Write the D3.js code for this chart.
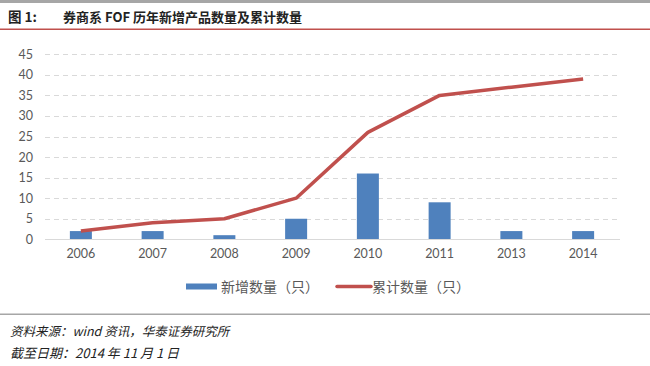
<!DOCTYPE html>
<html><head><meta charset="utf-8">
<script src="https://cdn.jsdelivr.net/npm/d3@7"></script>
<style>
html,body{margin:0;padding:0;background:#fff;}
svg{display:block;}
</style></head>
<body>
<script>
const categories = ["2006","2007","2008","2009","2010","2011","2013","2014"];
const newCount = [2,2,1,5,16,9,2,2];
const cumCount = [2,4,5,10,26,35,37,39];
const yTicks = [0,5,10,15,20,25,30,35,40,45];
const titleLabel = "图 1:";
const titleText = "券商系 FOF 历年新增产品数量及累计数量";
const legendLabels = ["新增数量（只）","累计数量（只）"];
const sourceText = "资料来源：wind 资讯，华泰证券研究所";
const dateText = "截至日期：2014 年 11 月 1 日";

const W = 650, H = 366;
const svg = d3.select("body").append("svg").attr("width", W).attr("height", H);
const cjk = "'Noto Sans CJK SC', 'Noto Sans', sans-serif";
const num = "Lato, 'Open Sans', sans-serif";

// top bar
svg.append("rect").attr("x",0).attr("y",0).attr("width",W).attr("height",3).attr("fill","#a6a6a6");
svg.append("text").attr("x",8).attr("y",22).attr("font-family",cjk).attr("font-weight",700)
  .attr("font-size",13.5).attr("fill","#222").text(titleLabel);
svg.append("text").attr("x",63).attr("y",22).attr("font-family",cjk).attr("font-weight",700)
  .attr("font-size",13).attr("fill","#222").text(titleText);
svg.append("rect").attr("x",0).attr("y",28.5).attr("width",W).attr("height",1.5).attr("fill","#c0504d");

const x = d3.scaleBand().domain(categories).range([45, 619]).paddingInner(0).paddingOuter(0);
const y = d3.scaleLinear().domain([0,45]).range([239.3, 54.3]);

const g = svg.append("g");
g.selectAll("line.grid").data(yTicks.filter(d=>d>0)).enter().append("line")
  .attr("x1",45).attr("x2",620).attr("y1",d=>Math.round(y(d))+0.5).attr("y2",d=>Math.round(y(d))+0.5)
  .attr("stroke","#d9d9d9").attr("stroke-width",1).attr("stroke-dasharray","5,4");

const yAxis = d3.axisLeft(y).tickValues(yTicks).tickSize(0).tickPadding(0);
const ya = svg.append("g").attr("transform","translate(33,0)").call(yAxis);
ya.select(".domain").remove();
ya.selectAll("text").attr("font-family",num).attr("font-size",12.5).attr("fill","#595959");

const bw = 22;
g.selectAll("rect.bar").data(categories).enter().append("rect")
  .attr("x",(d)=>x(d)+x.bandwidth()/2-bw/2)
  .attr("y",(d,i)=>y(newCount[i]))
  .attr("width",bw)
  .attr("height",(d,i)=>y(0)-y(newCount[i]))
  .attr("fill","#4f81bd");

g.append("line").attr("x1",45).attr("x2",620).attr("y1",239.5).attr("y2",239.5)
  .attr("stroke","#d9d9d9").attr("stroke-width",1);

const xAxis = d3.axisBottom(x).tickSize(0).tickPadding(0);
const xa = svg.append("g").attr("transform","translate(0,249)").call(xAxis);
xa.select(".domain").remove();
xa.selectAll("text").attr("font-family",num).attr("font-size",12.5).attr("fill","#595959").attr("dy","0.71em");

const line = d3.line().x((d,i)=>x(categories[i])+x.bandwidth()/2).y(d=>y(d));
g.append("path").datum(cumCount).attr("d",line).attr("fill","none")
  .attr("stroke","#c0504d").attr("stroke-width",3.5).attr("stroke-linejoin","round");

svg.append("rect").attr("x",186).attr("y",283.5).attr("width",31).attr("height",6).attr("fill","#4f81bd");
svg.append("text").attr("x",221).attr("y",291.5).attr("font-family",cjk).attr("font-size",14)
  .attr("fill","#595959").text(legendLabels[0]);
svg.append("line").attr("x1",337).attr("x2",371).attr("y1",286.5).attr("y2",286.5)
  .attr("stroke","#c0504d").attr("stroke-width",3.5).attr("stroke-linecap","round");
svg.append("text").attr("x",372).attr("y",291.5).attr("font-family",cjk).attr("font-size",14)
  .attr("fill","#595959").text(legendLabels[1]);

svg.append("rect").attr("x",0).attr("y",313.5).attr("width",W).attr("height",1.5).attr("fill","#a6a6a6");
svg.append("text").attr("x",10).attr("y",336).attr("font-family",cjk).attr("font-style","italic")
  .attr("font-size",12.5).attr("fill","#222").text(sourceText);
svg.append("text").attr("x",10).attr("y",358).attr("font-family",cjk).attr("font-style","italic")
  .attr("font-size",13).attr("fill","#222").text(dateText);
</script>
</body></html>
